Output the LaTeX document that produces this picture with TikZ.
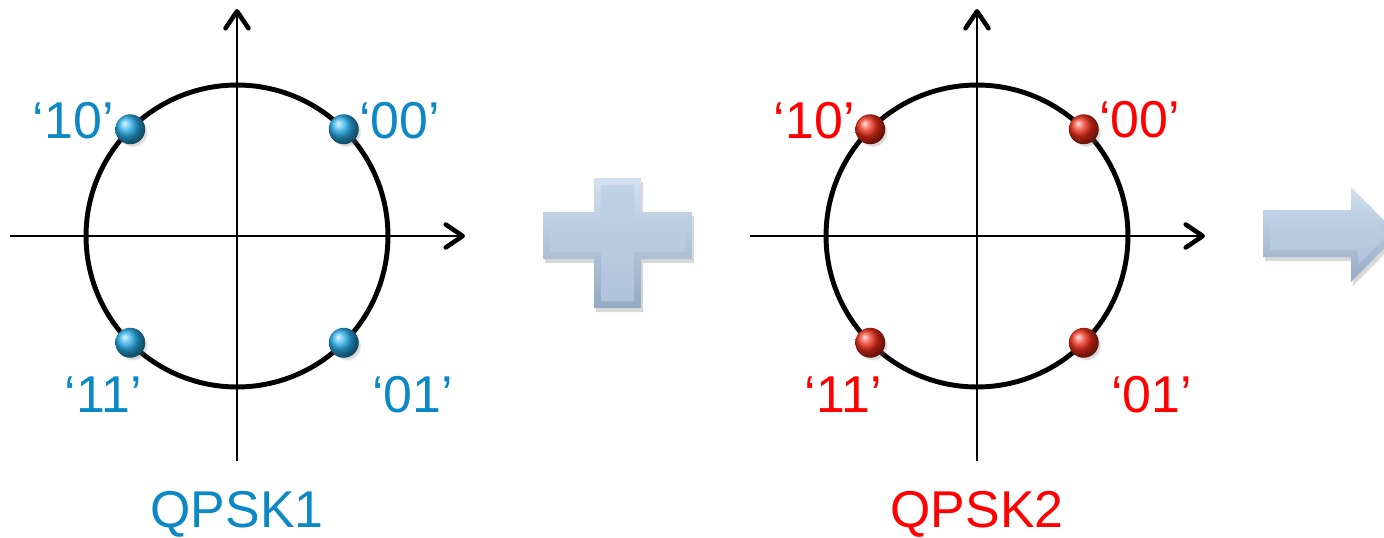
\documentclass[tikz,border=0pt]{standalone}
\usepackage{fontspec}
\setmainfont{Liberation Sans}
\usetikzlibrary{arrows.meta,positioning,shadows}

\definecolor{qblue}{RGB}{12,136,196}
\definecolor{qred}{RGB}{255,0,0}
\definecolor{dotblue}{RGB}{40,175,235}
\definecolor{dotred}{RGB}{240,45,25}
\definecolor{facetop}{RGB}{192,210,230}
\definecolor{facebot}{RGB}{174,196,218}
\definecolor{edgetop}{RGB}{210,224,240}
\definecolor{edgebot}{RGB}{148,170,195}

\begin{document}
\begin{tikzpicture}[x=0.02cm, y=-0.02cm,
    ring/.style={draw, circle, line width=2.8pt, minimum size=6.04cm, inner sep=0pt, outer sep=0pt},
    axis/.style={line width=1.1pt, -{Straight Barb[length=0.34cm, width=0.46cm, line width=2.6pt, round]}},
    dot/.style={circle, minimum size=0.6cm, inner sep=0pt,
        circular drop shadow={shadow xshift=0.05cm, shadow yshift=-0.06cm, opacity=0.3, shadow scale=1.0}},
    bluedot/.style={dot, ball color=dotblue},
    reddot/.style={dot, ball color=dotred},
    lbl/.style={inner sep=0pt, font=\fontsize{29.5}{35}\selectfont},
    bevel/.style={top color=edgetop, bottom color=edgebot},
    face/.style={top color=facetop, bottom color=facebot},
  ]
  \useasboundingbox (0,0) rectangle (1384,538);
  \clip (0,0) rectangle (1384,538);

  % first constellation
  \node[ring] (ring1) at (237,236) {};
  \coordinate (x1s) at (10,236);
  \coordinate (x1e) at (465,236);
  \coordinate (y1s) at (237,461);
  \coordinate (y1e) at (237,9);
  \draw[axis] (x1s) -- (x1e);
  \draw[axis] (y1s) -- (y1e);
  \node[bluedot] (b10) at (ring1.135) {};
  \node[bluedot] (b00) at (ring1.45) {};
  \node[bluedot] (b11) at (ring1.225) {};
  \node[bluedot] (b01) at (ring1.-45) {};
  \node[lbl, text=qblue, left=0.02cm of b10, yshift=0.18cm] (t10) {‘10’};
  \node[lbl, text=qblue, right=0.0cm of b00, yshift=0.18cm] (t00) {‘00’};
  \node[lbl, text=qblue, below=0.36cm of b11, xshift=-0.54cm] (t11) {‘11’};
  \node[lbl, text=qblue, below=0.36cm of b01, xshift=1.38cm] (t01) {‘01’};
  \node[lbl, text=qblue, below=0.6cm of y1s] (name1) {QPSK1};

  % plus sign
  \fill[black, opacity=0.15] (596,182) -- (643,182) -- (643,216) -- (694,216) -- (694,263) -- (643,263) -- (643,312)
    -- (596,312) -- (596,263) -- (545,263) -- (545,216) -- (596,216) -- cycle;
  \path[bevel] (594,178) -- (641,178) -- (641,212) -- (692,212) -- (692,259) -- (641,259) -- (641,308)
    -- (594,308) -- (594,259) -- (543,259) -- (543,212) -- (594,212) -- cycle;
  \path[face] (601,185) -- (634,185) -- (634,219) -- (685,219) -- (685,252) -- (634,252) -- (634,301)
    -- (601,301) -- (601,252) -- (550,252) -- (550,219) -- (601,219) -- cycle;

  % second constellation
  \node[ring] (ring2) at (977,236) {};
  \coordinate (x2s) at (750,236);
  \coordinate (x2e) at (1205,236);
  \coordinate (y2s) at (977,461);
  \coordinate (y2e) at (977,9);
  \draw[axis] (x2s) -- (x2e);
  \draw[axis] (y2s) -- (y2e);
  \node[reddot] (r10) at (ring2.135) {};
  \node[reddot] (r00) at (ring2.45) {};
  \node[reddot] (r11) at (ring2.225) {};
  \node[reddot] (r01) at (ring2.-45) {};
  \node[lbl, text=qred, left=0.0cm of r10, yshift=0.18cm] (s10) {‘10’};
  \node[lbl, text=qred, right=0.0cm of r00, yshift=0.2cm] (s00) {‘00’};
  \node[lbl, text=qred, below=0.36cm of r11, xshift=-0.54cm] (s11) {‘11’};
  \node[lbl, text=qred, below=0.36cm of r01, xshift=1.36cm] (s01) {‘01’};
  \node[lbl, text=qred, below=0.6cm of y2s] (name2) {QPSK2};

  % result arrow
  \fill[black, opacity=0.15] (1265,214) -- (1353,214) -- (1353,191) -- (1400,238.5) -- (1353,286) -- (1353,261) -- (1265,261) -- cycle;
  \path[bevel] (1263,210) -- (1351,210) -- (1351,187) -- (1398,234.5) -- (1351,282) -- (1351,257) -- (1263,257) -- cycle;
  \path[face] (1270,217) -- (1358,217) -- (1358,204) -- (1388,234.5) -- (1358,265) -- (1358,250) -- (1270,250) -- cycle;
\end{tikzpicture}
\end{document}
